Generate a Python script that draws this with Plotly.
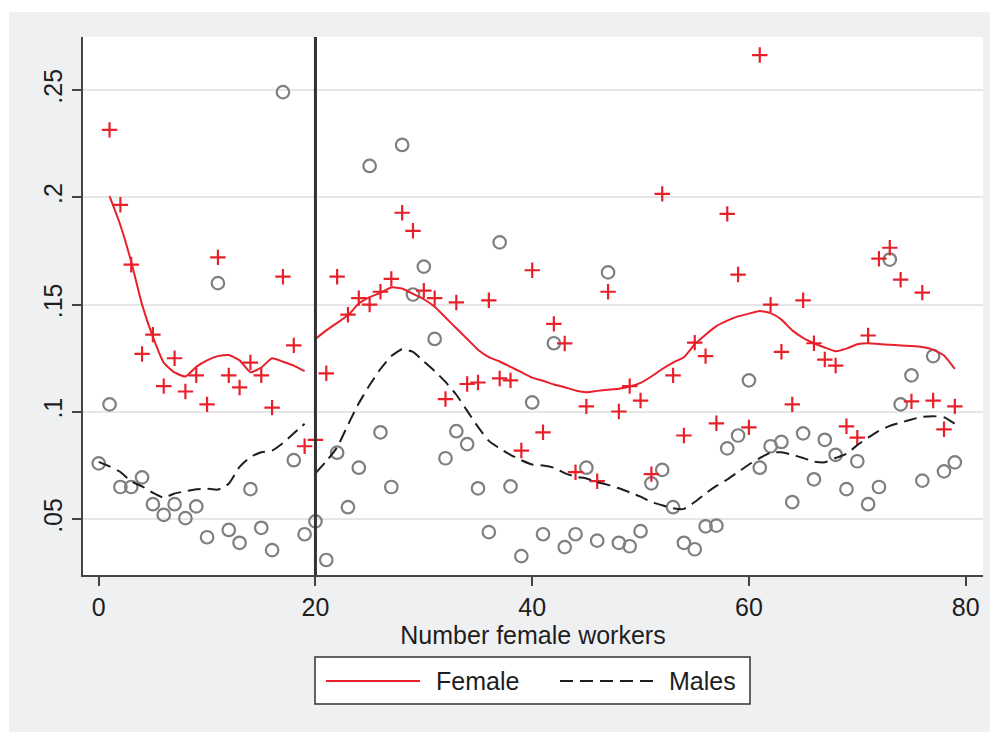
import plotly.graph_objects as go

# Cut-off marked by the vertical reference line
CUTOFF = 20

# Scatter values: share by number of female workers
male_x = list(range(0, 80))
male_share = [
    0.076, 0.1035, 0.065, 0.065, 0.0695, 0.057, 0.052, 0.057, 0.0505, 0.056,
    0.0416, 0.160, 0.045, 0.039, 0.064, 0.046, 0.0356, 0.249, 0.0775, 0.043,
    0.049, 0.031, 0.081, 0.0556, 0.074, 0.2146, 0.0905, 0.065, 0.2244, 0.1547,
    0.1677, 0.134, 0.0784, 0.091, 0.085, 0.0644, 0.044, 0.179, 0.0653, 0.0328,
    0.1044, 0.043, 0.132, 0.037, 0.043, 0.074, 0.040, 0.165, 0.039, 0.0374,
    0.0444, 0.0667, 0.073, 0.0556, 0.039, 0.036, 0.0467, 0.047, 0.083, 0.089,
    0.1147, 0.074, 0.084, 0.086, 0.058, 0.090, 0.0686, 0.087, 0.080, 0.064,
    0.077, 0.057, 0.065, 0.171, 0.1035, 0.117, 0.068, 0.126, 0.0723, 0.0765,
]

female_x = list(range(1, 80))
female_share = [
    0.2314, 0.1965, 0.1686, 0.127, 0.136, 0.112, 0.125, 0.1095, 0.117,
    0.1035, 0.172, 0.117, 0.1114, 0.123, 0.117, 0.102, 0.163, 0.131, 0.084,
    0.087, 0.118, 0.163, 0.1453, 0.153, 0.150, 0.156, 0.162, 0.1928, 0.1844,
    0.1565, 0.153, 0.106, 0.151, 0.113, 0.1137, 0.152, 0.1156, 0.1147, 0.082,
    0.166, 0.0905, 0.141, 0.1319, 0.0719, 0.1026, 0.0677, 0.156, 0.1002, 0.112,
    0.1053, 0.071, 0.2016, 0.117, 0.089, 0.1323, 0.126, 0.0947, 0.1923, 0.164,
    0.0928, 0.2663, 0.150, 0.128, 0.1035, 0.152, 0.132, 0.1244, 0.1216, 0.0933,
    0.088, 0.1356, 0.1714, 0.1765, 0.1616, 0.1049, 0.1556, 0.1053, 0.0919, 0.1026,
]

# Smoothed fits, estimated separately below and above the cut-off
female_fit_x_lo = list(range(1, 20))
female_fit_lo = [
    0.2005, 0.187, 0.170, 0.150, 0.135, 0.123, 0.1184, 0.1165, 0.121, 0.124,
    0.126, 0.1265, 0.124, 0.1185, 0.1207, 0.125, 0.1234, 0.1216, 0.119,
]
female_fit_x_hi = list(range(20, 80))
female_fit_hi = [
    0.134, 0.138, 0.1415, 0.145, 0.1505, 0.1535, 0.1555, 0.158, 0.1575, 0.155,
    0.1525, 0.149, 0.144, 0.139, 0.134, 0.129, 0.1255, 0.1235, 0.121, 0.1185,
    0.116, 0.1145, 0.1128, 0.1115, 0.110, 0.1092, 0.1098, 0.1103, 0.1108, 0.1118,
    0.1135, 0.1165, 0.120, 0.123, 0.1255, 0.1315, 0.136, 0.140, 0.1425, 0.1445,
    0.1458, 0.147, 0.146, 0.143, 0.138, 0.1345, 0.132, 0.130, 0.1283, 0.1295,
    0.1315, 0.132, 0.1316, 0.1313, 0.131, 0.1307, 0.1302, 0.129, 0.1263, 0.120,
]

male_fit_x_lo = list(range(0, 20))
male_fit_lo = [
    0.0767, 0.0746, 0.072, 0.0676, 0.0653, 0.0623, 0.060, 0.062, 0.063, 0.064,
    0.0642, 0.0638, 0.0665, 0.0744, 0.079, 0.0812, 0.082, 0.0855, 0.090, 0.0945,
]
male_fit_x_hi = list(range(20, 80))
male_fit_hi = [
    0.0714, 0.077, 0.0835, 0.094, 0.104, 0.1125, 0.120, 0.126, 0.1292, 0.128,
    0.1235, 0.119, 0.114, 0.108, 0.1005, 0.093, 0.0865, 0.083, 0.080, 0.0775,
    0.0755, 0.075, 0.074, 0.0715, 0.0698, 0.069, 0.0673, 0.066, 0.0644, 0.0625,
    0.0605, 0.058, 0.0565, 0.0551, 0.0548, 0.058, 0.062, 0.0655, 0.0685, 0.072,
    0.0755, 0.0785, 0.081, 0.0812, 0.080, 0.0785, 0.0768, 0.0765, 0.0785, 0.0805,
    0.0845, 0.088, 0.0912, 0.0935, 0.095, 0.0965, 0.0977, 0.098, 0.0975, 0.0945,
]

x_ticks = [0, 20, 40, 60, 80]
y_ticks = [0.05, 0.10, 0.15, 0.20, 0.25]
y_tick_text = [".05", ".1", ".15", ".2", ".25"]

RED = "#e8202a"
GREY = "#7f7f7f"
DARK = "#1e1e1e"
BG = "#eff0f2"
FONT = "Liberation Sans, Arial, Helvetica, sans-serif"

fig = go.Figure()

fig.add_trace(go.Scatter(
    x=male_x, y=male_share, mode="markers", name="Males (obs)",
    marker=dict(symbol="circle-open", size=12.5, color=GREY, line=dict(width=2.2, color=GREY)),
    showlegend=False, hoverinfo="x+y",
))
fig.add_trace(go.Scatter(
    x=female_x, y=female_share, mode="markers", name="Female (obs)",
    marker=dict(symbol="cross-thin-open", size=11, color=RED, line=dict(width=2.2, color=RED)),
    showlegend=False, hoverinfo="x+y",
))

for xs, ys in [(female_fit_x_lo, female_fit_lo), (female_fit_x_hi, female_fit_hi)]:
    fig.add_trace(go.Scatter(
        x=xs, y=ys, mode="lines", name="Female",
        line=dict(color=RED, width=2, shape="spline", smoothing=0.5),
        showlegend=False,
    ))
for xs, ys in [(male_fit_x_lo, male_fit_lo), (male_fit_x_hi, male_fit_hi)]:
    fig.add_trace(go.Scatter(
        x=xs, y=ys, mode="lines", name="Males",
        line=dict(color=DARK, width=2, dash="13px,7px", shape="spline", smoothing=0.5),
        showlegend=False,
    ))

# Plot geometry in pixels (used to place the hand-built legend)
W, H = 997, 732
L, R, T, B = 83, 14, 37, 157
PW, PH = W - L - R, H - T - B


def px(xpix):
    return (xpix - L) / PW


def py(ypix):
    return (H - B - ypix) / PH


shapes = []
# Thin white page border around the grey graph region
for x0, x1, y0, y1 in [(0, 9, 0, H), (990, W, 0, H), (0, W, 0, 12)]:
    shapes.append(dict(type="rect", xref="paper", yref="paper",
                       x0=px(x0), x1=px(x1), y0=py(y1), y1=py(y0),
                       fillcolor="white", line=dict(width=0), layer="below"))

# Vertical reference line at the cut-off
shapes.append(dict(type="line", xref="x", yref="paper", x0=CUTOFF, x1=CUTOFF, y0=0, y1=1,
                   line=dict(color="#333333", width=3)))

# Legend box with line samples
shapes.append(dict(type="rect", xref="paper", yref="paper",
                   x0=px(315), x1=px(750), y0=py(704), y1=py(657),
                   fillcolor="white", line=dict(color="#333333", width=1.5)))
shapes.append(dict(type="line", xref="paper", yref="paper",
                   x0=px(326), x1=px(420), y0=py(681), y1=py(681),
                   line=dict(color=RED, width=2)))
shapes.append(dict(type="line", xref="paper", yref="paper",
                   x0=px(560), x1=px(653), y0=py(681), y1=py(681),
                   line=dict(color=DARK, width=2, dash="13px,7px")))

annotations = [
    dict(text="Female", xref="paper", yref="paper", x=px(434), y=py(681),
         xanchor="left", yanchor="middle", showarrow=False,
         font=dict(family=FONT, size=25, color=DARK)),
    dict(text="Males", xref="paper", yref="paper", x=px(667), y=py(681),
         xanchor="left", yanchor="middle", showarrow=False,
         font=dict(family=FONT, size=25, color=DARK)),
]

fig.update_layout(
    width=W, height=H,
    margin=dict(l=L, r=R, t=T, b=B, pad=0),
    paper_bgcolor=BG, plot_bgcolor="white",
    font=dict(family=FONT, size=25, color=DARK),
    showlegend=False,
    shapes=shapes,
    annotations=annotations,
    xaxis=dict(
        range=[-1.45, 81.6], tickvals=x_ticks, ticktext=[str(v) for v in x_ticks],
        showgrid=False, zeroline=False,
        showline=True, linecolor="#444444", linewidth=1.5,
        ticks="outside", ticklen=9, tickwidth=1.5, tickcolor="#444444",
        tickfont=dict(family=FONT, size=25, color=DARK),
        title=dict(text="Number female workers", standoff=4,
                   font=dict(family=FONT, size=25, color=DARK)),
    ),
    yaxis=dict(
        range=[0.024, 0.2747], tickvals=y_ticks, ticktext=y_tick_text,
        tickangle=-90,
        showgrid=True, gridcolor="#e6e6e6", gridwidth=2, zeroline=False,
        showline=True, linecolor="#444444", linewidth=1.5,
        ticks="outside", ticklen=9, tickwidth=1.5, tickcolor="#444444",
        tickfont=dict(family=FONT, size=25, color=DARK),
    ),
)

fig.write_html("out.html")
